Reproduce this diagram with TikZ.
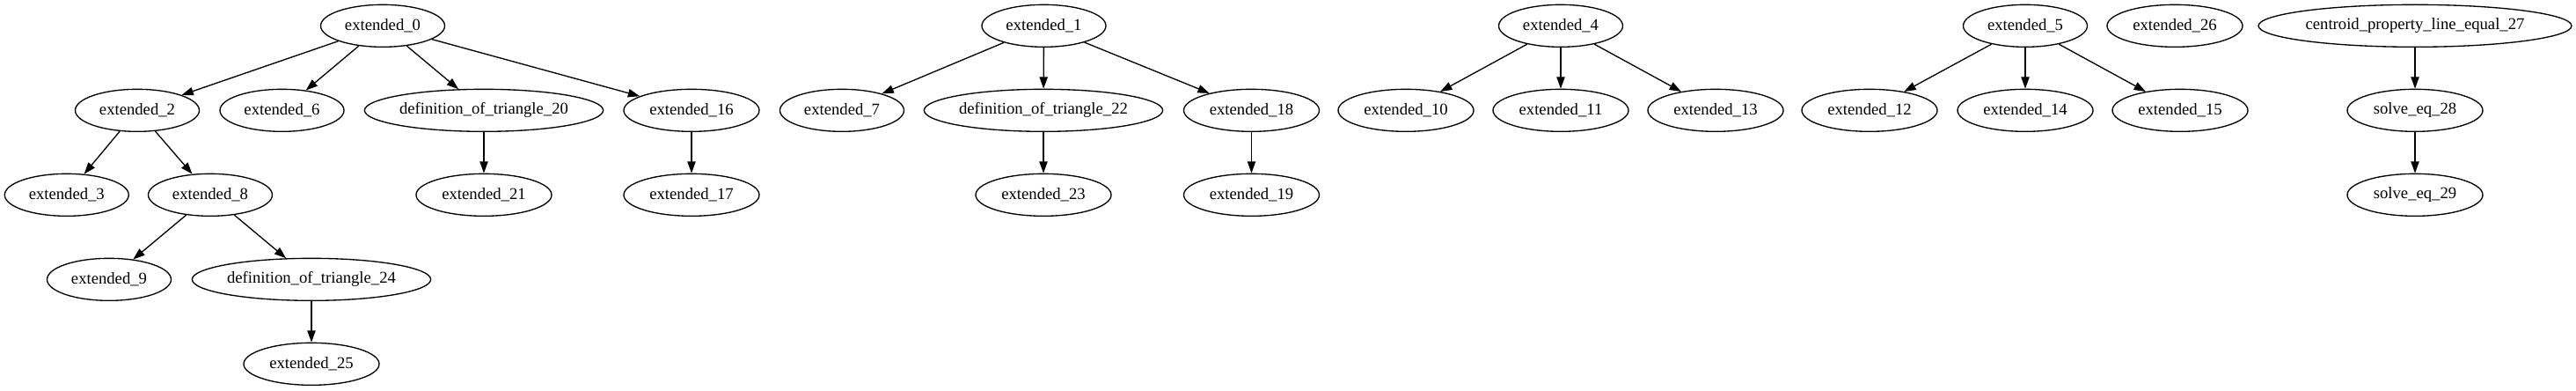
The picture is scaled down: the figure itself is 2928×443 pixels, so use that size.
\documentclass[tikz,border=0pt]{standalone}
\usepackage{fontspec}
\setmainfont{Liberation Serif}
\usetikzlibrary{arrows.meta,shapes.geometric}
\begin{document}
\begin{tikzpicture}[x=0.75pt,y=-0.75pt,
  nd/.style={ellipse,draw,line width=1pt,inner sep=0pt,minimum height=36pt,font=\fontsize{14}{16}\selectfont},
  sa/.style={nd,minimum width=105.75pt},
  sb/.style={nd,minimum width=115.5pt},
  sd/.style={nd,minimum width=202.5pt},
  sc/.style={nd,minimum width=267pt},
  edge/.style={-{Triangle[length=10pt,width=7pt]},line width=1pt}]
\useasboundingbox (0,0) rectangle (2928,443);
% rank 0
\node[sa] (e0) at (435,29.33) {extended\_0};
\node[sa] (e1) at (1186.5,29.33) {extended\_1};
\node[sa] (e4) at (1774,29.33) {extended\_4};
\node[sa] (e5) at (2302,29.33) {extended\_5};
\node[sb] (e26) at (2472,29.33) {extended\_26};
\node[sc] (c27) at (2745,29.33) {centroid\_property\_line\_equal\_27};
% rank 1
\node[sa] (e2) at (156,125.33) {extended\_2};
\node[sa] (e6) at (320.5,125.33) {extended\_6};
\node[sd] (d20) at (550,125.33) {definition\_of\_triangle\_20};
\node[sb] (e16) at (786,125.33) {extended\_16};
\node[sa] (e7) at (957,125.33) {extended\_7};
\node[sd] (d22) at (1186,125.33) {definition\_of\_triangle\_22};
\node[sb] (e18) at (1422.5,125.33) {extended\_18};
\node[sb] (e10) at (1598,125.33) {extended\_10};
\node[sb] (e11) at (1774,125.33) {extended\_11};
\node[sb] (e13) at (1950,125.33) {extended\_13};
\node[sb] (e12) at (2125,125.33) {extended\_12};
\node[sb] (e14) at (2302,125.33) {extended\_14};
\node[sb] (e15) at (2478,125.33) {extended\_15};
\node[sb] (s28) at (2745,125.33) {solve\_eq\_28};
% rank 2
\node[sa] (e3) at (75.8,221.33) {extended\_3};
\node[sa] (e8) at (239,221.33) {extended\_8};
\node[sb] (e21) at (550,221.33) {extended\_21};
\node[sb] (e17) at (786,221.33) {extended\_17};
\node[sb] (e23) at (1186,221.33) {extended\_23};
\node[sb] (e19) at (1422.5,221.33) {extended\_19};
\node[sb] (s29) at (2745,221.33) {solve\_eq\_29};
% rank 3
\node[sa] (e9) at (124,317.33) {extended\_9};
\node[sd] (d24) at (354,317.33) {definition\_of\_triangle\_24};
% rank 4
\node[sb] (e25) at (354,413.33) {extended\_25};
% edges
\draw[edge] (e0) -- (e2);
\draw[edge] (e0) -- (e6);
\draw[edge] (e0) -- (d20);
\draw[edge] (e0) -- (e16);
\draw[edge] (e2) -- (e3);
\draw[edge] (e2) -- (e8);
\draw[edge] (e8) -- (e9);
\draw[edge] (e8) -- (d24);
\draw[edge] (d24) -- (e25);
\draw[edge] (d20) -- (e21);
\draw[edge] (e16) -- (e17);
\draw[edge] (e1) -- (e7);
\draw[edge] (e1) -- (d22);
\draw[edge] (e1) -- (e18);
\draw[edge] (d22) -- (e23);
\draw[edge] (e18) -- (e19);
\draw[edge] (e4) -- (e10);
\draw[edge] (e4) -- (e11);
\draw[edge] (e4) -- (e13);
\draw[edge] (e5) -- (e12);
\draw[edge] (e5) -- (e14);
\draw[edge] (e5) -- (e15);
\draw[edge] (c27) -- (s28);
\draw[edge] (s28) -- (s29);
\end{tikzpicture}
\end{document}
